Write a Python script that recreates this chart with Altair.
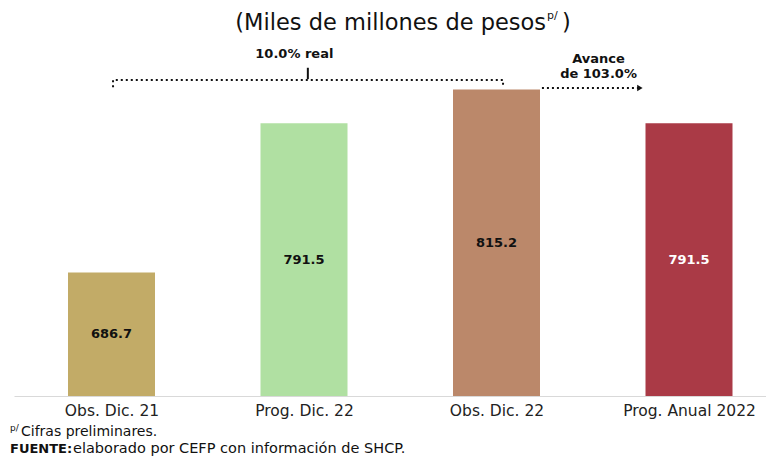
import json
import altair as alt
import pandas as pd

# ---- data ----
categories = ["Obs. Dic. 21", "Prog. Dic. 22", "Obs. Dic. 22", "Prog. Anual 2022"]
values = [686.7, 791.5, 815.2, 791.5]
bar_colors = ["#C2AB67", "#B0E0A2", "#BB886A", "#AA3A46"]
label_colors = ["#111111", "#111111", "#111111", "#ffffff"]
base_value = 600

title_main = "(Miles de millones de pesos"
title_sup = "p/"
title_close = ")"
growth_text = "10.0% real"
advance_lines = ["Avance", "de 103.0%"]
note_sup = "p/"
note_text = "Cifras preliminares."
source_bold = "FUENTE:"
source_text = "elaborado por CEFP con información de SHCP."

# annotation geometry (data units)
bracket_x = [0.008, 0.008, 2.034, 2.034]
bracket_y = [816.8, 821.9, 821.9, 816.8]
mid_tick_x = 1.02
mid_tick_y = [822.5, 830.5]
arrow_x = [2.236, 2.745]
arrow_y = 816.3
growth_pos = (0.95, 840.2)
advance_pos = [(2.53, 836.7), (2.53, 826.1)]

FONT = "DejaVu Sans"
X_DOM = [-0.5065, 3.400]
Y_DOM = [600, 850]

xs = alt.Scale(domain=X_DOM, nice=False, zero=False, padding=0)
ys = alt.Scale(domain=Y_DOM, nice=False, zero=False, padding=0)

df = pd.DataFrame({
    "cat": categories,
    "pos": list(range(len(categories))),
    "value": values,
    "base": [base_value] * len(values),
    "lblcolor": label_colors,
})
df["mid"] = (df["value"] + df["base"]) / 2

label_expr = json.dumps(categories) + "[datum.value]"

bars = alt.Chart(df).mark_bar(size=87).encode(
    x=alt.X("pos:Q", scale=xs, title=None,
            axis=alt.Axis(values=[0, 1, 2, 3], labelExpr=label_expr, grid=False, ticks=False,
                          domainColor="#d9d9d9", domainWidth=1, labelFont=FONT,
                          labelFontSize=15.5, labelColor="#222222", labelPadding=7)),
    y=alt.Y("value:Q", scale=ys, axis=None),
    y2="base:Q",
    color=alt.Color("cat:N", scale=alt.Scale(domain=categories, range=bar_colors), legend=None),
)

labels = alt.Chart(df).mark_text(font=FONT, fontSize=13, fontWeight="bold").encode(
    x=alt.X("pos:Q", scale=xs),
    y=alt.Y("mid:Q", scale=ys),
    text=alt.Text("value:Q", format=".1f"),
    color=alt.Color("lblcolor:N", scale=None),
)

bracket = alt.Chart(pd.DataFrame({"x": bracket_x, "y": bracket_y, "o": [0, 1, 2, 3]})).mark_line(
    color="#111111", strokeWidth=2, strokeDash=[2, 3]
).encode(x=alt.X("x:Q", scale=xs), y=alt.Y("y:Q", scale=ys), order="o:O")

mid_tick = alt.Chart(pd.DataFrame({"x": [mid_tick_x], "y": [mid_tick_y[0]], "y2": [mid_tick_y[1]]})).mark_rule(
    color="#111111", strokeWidth=2
).encode(x=alt.X("x:Q", scale=xs), y=alt.Y("y:Q", scale=ys), y2="y2:Q")

arrow = alt.Chart(pd.DataFrame({"x": arrow_x, "y": [arrow_y] * 2})).mark_line(
    color="#111111", strokeWidth=2, strokeDash=[2, 3]
).encode(x=alt.X("x:Q", scale=xs), y=alt.Y("y:Q", scale=ys))

arrow_head = alt.Chart(pd.DataFrame({"x": [arrow_x[1]], "y": [arrow_y]})).mark_point(
    shape="triangle-right", filled=True, size=40, color="#111111", opacity=1
).encode(x=alt.X("x:Q", scale=xs), y=alt.Y("y:Q", scale=ys))

ann_df = pd.DataFrame({
    "x": [growth_pos[0]] + [p[0] for p in advance_pos],
    "y": [growth_pos[1]] + [p[1] for p in advance_pos],
    "t": [growth_text] + advance_lines,
})
ann = alt.Chart(ann_df).mark_text(font=FONT, fontSize=13, fontWeight="bold", color="#111111").encode(
    x=alt.X("x:Q", scale=xs), y=alt.Y("y:Q", scale=ys), text="t:N"
)

def txt(s, x, y, size, align="left", weight="normal", baseline="middle"):
    return alt.Chart(pd.DataFrame({"t": [s]})).mark_text(
        font=FONT, fontSize=size, fontWeight=weight, align=align, baseline=baseline, color="#111111"
    ).encode(x=alt.value(x), y=alt.value(y), text="t:N")

title_layers = [
    txt(title_main, 532, -17, 22.5, align="right"),
    txt(title_sup, 533, -24, 11),
    txt(title_close, 548, -17, 22.5),
]
foot_layers = [
    txt(note_sup, -4, 388, 9),
    txt(note_text, 7, 392, 14),
    txt(source_bold, -4, 408.5, 13, weight="bold"),
    txt(source_text, 59, 408.5, 14.5),
]

chart = alt.layer(bars, labels, bracket, mid_tick, arrow, arrow_head, ann,
                  *title_layers, *foot_layers).properties(
    width=752, height=356,
    autosize=alt.AutoSizeParams(type="none"),
    padding={"left": 6, "top": 32, "right": 0, "bottom": 60},
    background="white",
).configure_view(stroke=None)

chart.save("out.html", embed_options={"renderer": "svg", "actions": False})
